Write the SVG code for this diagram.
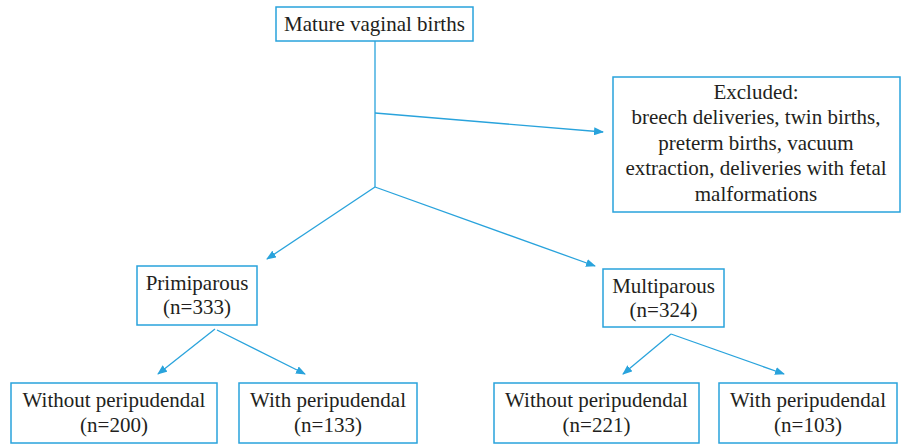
<svg xmlns="http://www.w3.org/2000/svg" width="906" height="445" viewBox="0 0 906 445">
<defs>
<style>
.box{fill:#fff;stroke:#29a3dc;stroke-width:1.5}
.t{font-family:"Liberation Serif","Times New Roman",serif;font-size:21px;fill:#231f20;text-anchor:middle}
.c{fill:none;stroke:#29a3dc;stroke-width:1.3}
</style>
<marker id="ah" markerUnits="userSpaceOnUse" markerWidth="10" markerHeight="8" refX="9" refY="4" orient="auto">
<path d="M0,0 L10,4 L0,8 Z" fill="#29a3dc"/>
</marker>
</defs>
<g id="connectors">
<path class="c" d="M375,41 V187"/>
<path class="c" d="M375,113 L603,132" marker-end="url(#ah)"/>
<path class="c" d="M375,187 L267,259" marker-end="url(#ah)"/>
<path class="c" d="M375,187 L595,266" marker-end="url(#ah)"/>
<path class="c" d="M215,329 L158,374" marker-end="url(#ah)"/>
<path class="c" d="M217,330 L305,374" marker-end="url(#ah)"/>
<path class="c" d="M671,334 L623,374" marker-end="url(#ah)"/>
<path class="c" d="M671,334 L784,374" marker-end="url(#ah)"/>
</g>
<g id="mature">
<rect class="box" x="276" y="7" width="197" height="34"/>
<text class="t" x="374.5" y="31">Mature vaginal births</text>
</g>
<g id="excluded">
<rect class="box" x="613" y="77" width="287" height="135"/>
<text class="t" x="756" y="99">Excluded:</text>
<text class="t" x="756" y="124">breech deliveries, twin births,</text>
<text class="t" x="756" y="150">preterm births, vacuum</text>
<text class="t" x="756" y="175">extraction, deliveries with fetal</text>
<text class="t" x="756" y="201">malformations</text>
</g>
<g id="primiparous">
<rect class="box" x="137" y="266" width="120" height="59"/>
<text class="t" x="197" y="290">Primiparous</text>
<text class="t" x="197" y="314">(n=333)</text>
</g>
<g id="multiparous">
<rect class="box" x="603" y="269" width="121" height="58"/>
<text class="t" x="663.5" y="293">Multiparous</text>
<text class="t" x="663.5" y="317">(n=324)</text>
</g>
<g id="prim-without">
<rect class="box" x="11" y="383" width="206" height="60"/>
<text class="t" x="114" y="407">Without peripudendal</text>
<text class="t" x="114" y="432">(n=200)</text>
</g>
<g id="prim-with">
<rect class="box" x="239" y="383" width="178" height="60"/>
<text class="t" x="328" y="407">With peripudendal</text>
<text class="t" x="328" y="432">(n=133)</text>
</g>
<g id="multi-without">
<rect class="box" x="494" y="383" width="205" height="60"/>
<text class="t" x="596.5" y="407">Without peripudendal</text>
<text class="t" x="596.5" y="432">(n=221)</text>
</g>
<g id="multi-with">
<rect class="box" x="719" y="383" width="178" height="60"/>
<text class="t" x="808" y="407">With peripudendal</text>
<text class="t" x="808" y="432">(n=103)</text>
</g>
</svg>
